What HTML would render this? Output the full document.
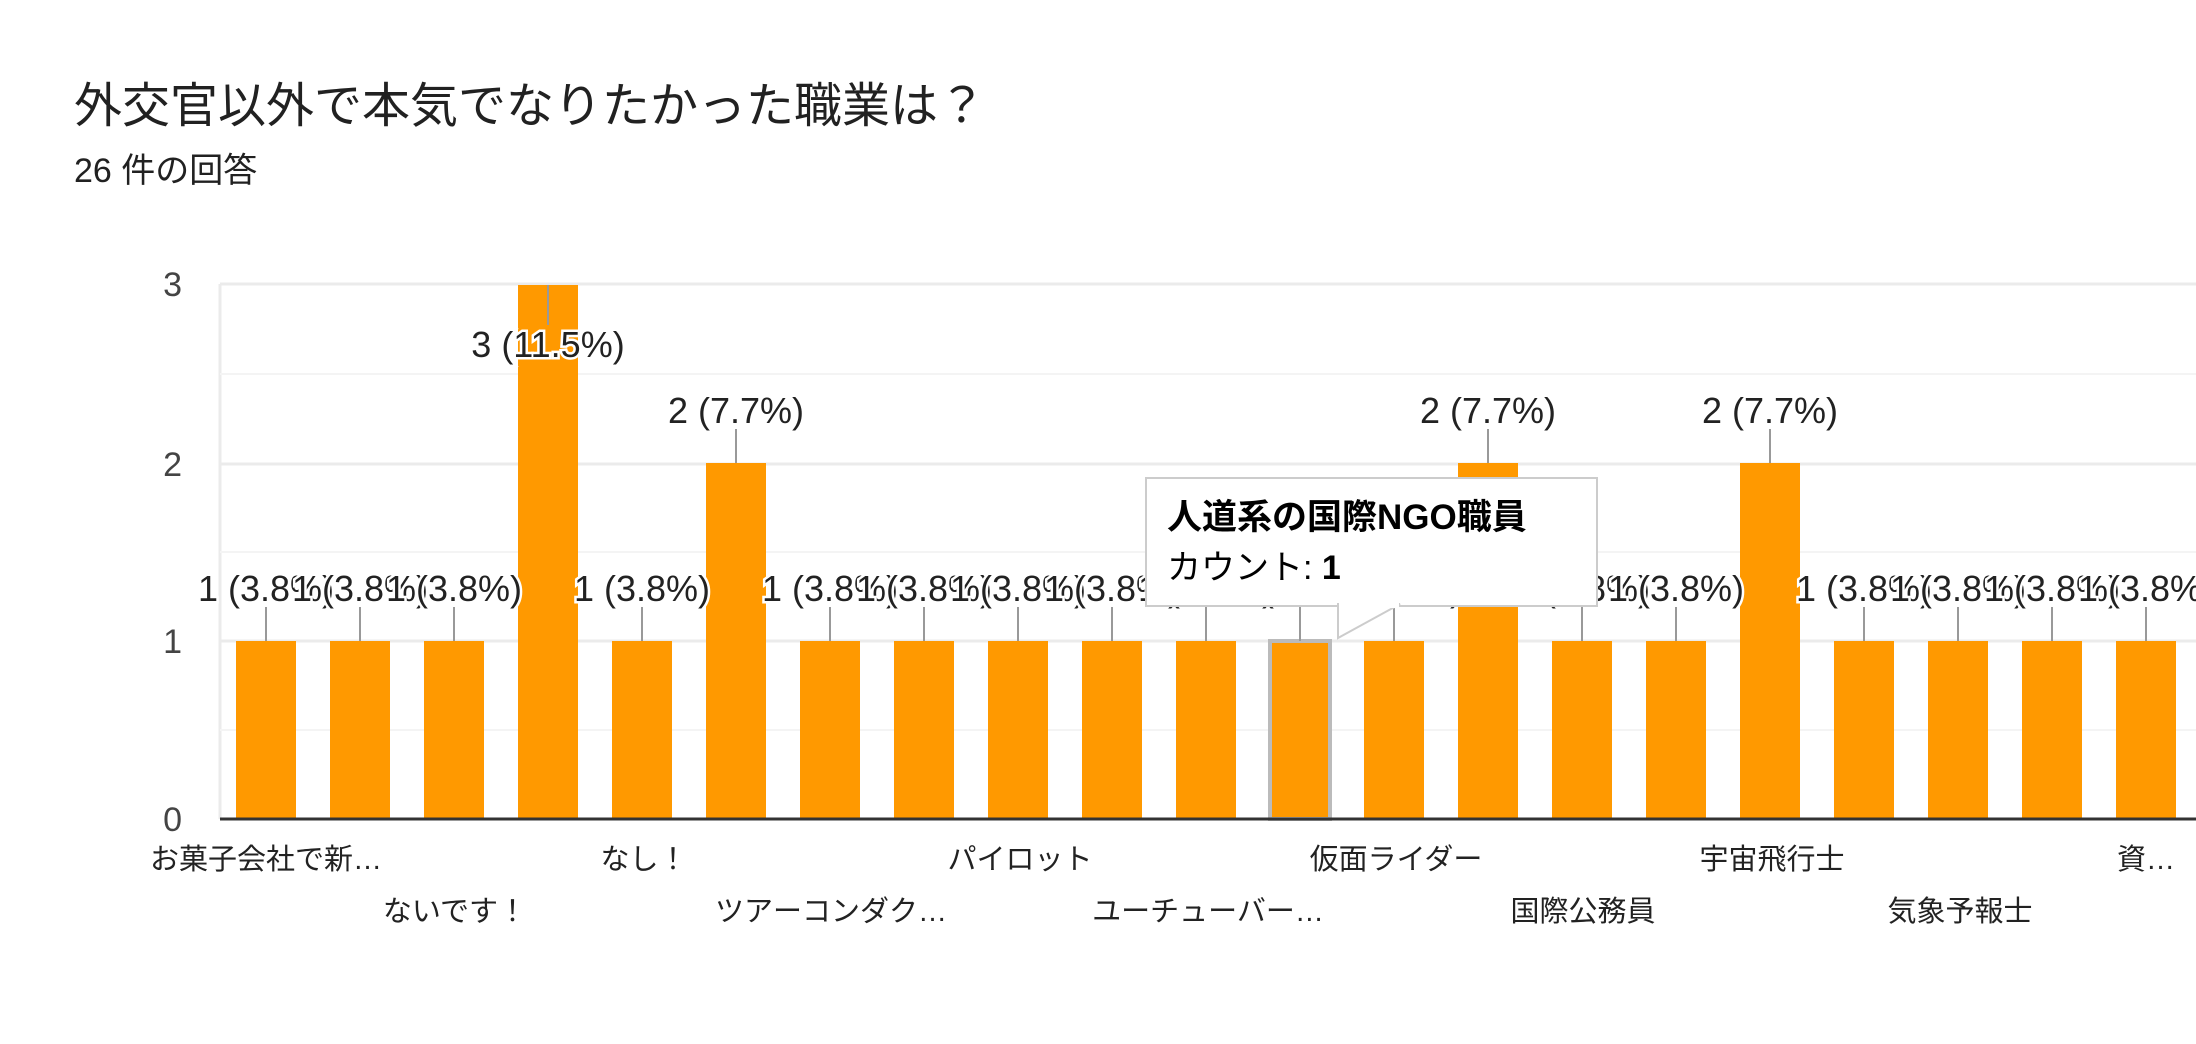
<!DOCTYPE html>
<html><head><meta charset="utf-8"><style>
html,body{margin:0;padding:0;background:#fff;}
body{width:2196px;height:1044px;overflow:hidden;position:relative;font-family:"Liberation Sans","Noto Sans CJK JP",sans-serif;}
</style></head><body>
<svg width="2196" height="1044" xmlns="http://www.w3.org/2000/svg" style="position:absolute;left:0;top:0" font-family="Liberation Sans, Noto Sans CJK JP, sans-serif">
<text x="74" y="122" font-size="48" fill="#212121">外交官以外で本気でなりたかった職業は？</text>
<text x="74" y="182" font-size="34" fill="#212121">26 件の回答</text>
<g stroke="#ebebeb" stroke-width="3">
<line x1="220" y1="284" x2="2196" y2="284"/>
<line x1="220" y1="464" x2="2196" y2="464"/>
<line x1="220" y1="641" x2="2196" y2="641"/>
<line x1="220" y1="284" x2="220" y2="819"/>
</g>
<g stroke="#f4f4f4" stroke-width="2">
<line x1="220" y1="374" x2="2196" y2="374"/>
<line x1="220" y1="552" x2="2196" y2="552"/>
<line x1="220" y1="730" x2="2196" y2="730"/>
</g>
<g font-size="34" fill="#444" text-anchor="end">
<text x="182" y="296">3</text><text x="182" y="476">2</text><text x="182" y="653">1</text><text x="182" y="831">0</text>
</g>
<g fill="#ff9900" id="bars"></g>
<g id="labels" font-size="36" fill="#222" text-anchor="middle"></g>
<line x1="220" y1="819" x2="2196" y2="819" stroke="#333" stroke-width="3"/>
<g font-size="29" fill="#222" text-anchor="middle">
<text x="266" y="869">お菓子会社で新…</text>
<text x="644" y="869">なし！</text>
<text x="1020" y="869">パイロット</text>
<text x="1396" y="869">仮面ライダー</text>
<text x="1772" y="869">宇宙飛行士</text>
<text x="2146" y="869">資…</text>
<text x="455" y="921">ないです！</text>
<text x="831" y="921">ツアーコンダク…</text>
<text x="1208" y="921">ユーチューバー…</text>
<text x="1583" y="921">国際公務員</text>
<text x="1960" y="921">気象予報士</text>
</g>
<g>
<rect x="1146" y="478" width="451" height="128" fill="#fff" stroke="#ccc" stroke-width="2"/>
<polygon points="1338,604 1338,638 1400,604" fill="#fff" stroke="#ccc" stroke-width="2"/>
<rect x="1339" y="600" width="60" height="8" fill="#fff"/>
<text x="1167" y="529" font-size="35" font-weight="bold" fill="#000">人道系の国際NGO職員</text>
<text x="1167" y="579" font-size="34" fill="#000">カウント:  <tspan font-weight="bold">1</tspan></text>
</g>
</svg>
<script>
var vals=[1,1,1,3,1,2,1,1,1,1,1,1,1,2,1,1,2,1,1,1,1];
var pct={1:"3.8%",2:"7.7%",3:"11.5%"};
var ns="http://www.w3.org/2000/svg";
var bars=document.getElementById("bars"),labs=document.getElementById("labels");
var y0=819,u=178;
vals.forEach(function(v,i){
 var cx=266+i*94,top=y0-v*u;
 var r=document.createElementNS(ns,"rect");
 r.setAttribute("x",cx-30);r.setAttribute("y",top);r.setAttribute("width",60);r.setAttribute("height",y0-top);
 if(i==11){r.setAttribute("stroke","#bbb");r.setAttribute("stroke-width","4");}
 bars.appendChild(r);
 var l=document.createElementNS(ns,"line");
 var t=document.createElementNS(ns,"text");
 t.textContent=v+" ("+pct[v]+")";
 t.setAttribute("x",cx);
 t.setAttribute("stroke","#fff");t.setAttribute("stroke-width","5");t.setAttribute("paint-order","stroke");
 if(v==3){l.setAttribute("y1",top);l.setAttribute("y2",top+40);t.setAttribute("y",top+72);}
 else{l.setAttribute("y1",top-34);l.setAttribute("y2",top);t.setAttribute("y",top-40);}
 l.setAttribute("x1",cx);l.setAttribute("x2",cx);l.setAttribute("stroke","#999");l.setAttribute("stroke-width","2");
 labs.appendChild(l);labs.appendChild(t);
});
</script>
</body></html>
